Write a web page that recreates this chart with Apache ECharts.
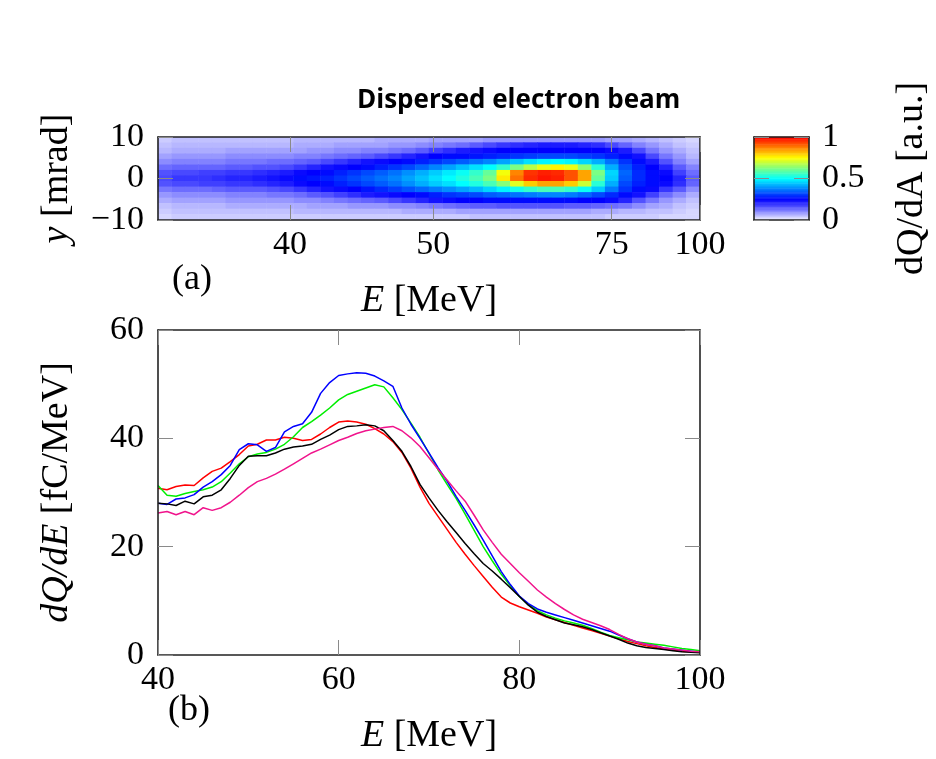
<!DOCTYPE html>
<html><head><meta charset="utf-8">
<script src="https://cdn.jsdelivr.net/npm/echarts@6/dist/echarts.min.js"></script>
<style>html,body{margin:0;padding:0;background:#fff}#c{width:936px;height:759px}</style>
</head><body><div id="c"></div>
<script>
// ---------- panel (b): spectra ----------
const energy = [40,41,42,43,44,45,46,47,48,49,50,51,52,53,54,55,56,57,58,59,60,61,62,63,64,65,66,67,68,69,70,71,72,73,74,75,76,77,78,79,80,81,82,83,84,85,86,87,88,89,90,91,92,93,94,95,96,97,98,99,100];
const redQ = [30.8,30.5,31.1,31.4,31.3,32.7,33.9,34.5,35.7,37.0,38.6,38.9,39.7,39.7,40.2,40.0,39.6,39.8,40.8,42.0,43.0,43.2,43.0,42.6,41.8,40.8,39.4,37.4,34.5,31.0,28.0,25.6,23.2,20.8,18.6,16.5,14.5,12.5,10.7,9.6,8.9,8.3,7.7,7.0,6.5,6.0,5.5,5.0,4.5,4.0,3.5,3.0,2.5,2.1,1.7,1.4,1.1,0.9,0.7,0.6,0.5];
const greenQ = [31.3,29.5,29.3,29.8,30.2,30.5,31.0,32.0,33.6,35.3,36.6,37.1,37.4,38.0,38.9,40.3,42.0,43.1,44.3,45.6,47.1,48.1,48.7,49.3,49.9,49.5,47.5,45.3,42.8,40.2,37.2,34.2,31.5,28.9,26.0,23.0,20.0,17.4,14.9,12.8,10.8,9.3,8.2,7.4,6.8,6.3,5.9,5.5,4.9,4.2,3.6,3.2,2.8,2.4,2.2,2.0,1.8,1.5,1.2,1.0,0.8];
const blueQ = [28.0,27.8,28.8,29.0,29.6,31.0,32.0,33.3,35.0,37.9,39.0,38.8,37.6,38.3,41.2,42.2,42.7,44.8,48.3,50.3,51.6,51.9,52.1,52.0,51.5,50.6,49.6,45.6,42.6,40.0,37.3,34.6,32.1,29.3,26.7,24.0,21.2,18.3,15.4,13.0,10.9,9.5,8.5,7.9,7.4,6.9,6.4,5.9,5.4,4.9,4.4,3.7,3.0,2.4,2.0,1.7,1.3,1.1,0.9,0.7,0.5];
const blackQ = [28.0,27.9,27.6,28.4,27.9,29.2,29.5,30.5,32.6,35.0,36.7,36.8,36.8,37.3,38.0,38.4,38.6,38.9,39.8,40.6,41.6,42.2,42.3,42.5,42.3,41.4,39.6,37.6,34.8,31.5,29.0,26.7,24.6,22.6,20.6,18.7,16.9,15.5,14.0,12.4,10.8,9.2,7.9,7.1,6.5,5.9,5.6,5.2,4.7,4.1,3.5,2.9,2.2,1.7,1.4,1.2,1.0,0.8,0.6,0.5,0.4];
const magentaQ = [26.2,26.5,25.9,26.5,25.9,27.2,26.7,27.2,28.2,29.5,30.9,32.0,32.6,33.4,34.3,35.3,36.3,37.3,38.0,38.8,39.6,40.2,40.9,41.4,41.7,42.0,42.2,41.4,40.1,38.5,36.4,34.3,32.3,30.3,28.4,25.8,23.1,20.8,18.6,16.9,15.2,13.6,12.0,10.7,9.5,8.4,7.4,6.6,6.0,5.4,4.7,3.8,3.0,2.4,2.0,1.7,1.3,1.1,0.9,0.7,0.6];
const seriesNames = ['shot 1','shot 2','shot 3','shot 4','shot 5'];
const seriesColors = ['#ff0000','#00ee00','#0000ff','#000000','#f0148c'];
const seriesValues = [redQ, greenQ, blueQ, blackQ, magentaQ];

// ---------- panel (a): dispersed beam image (dQ/dA in %), rows top (+10 mrad) -> bottom (-10 mrad) ----------
const beamRows = [
 [4,5,5,5,5,5,5,5,5,5,6,6,6,6,6,6,7,7,7,7,8,8,8,8,9,9,9,9,9,9,9,9,9,8,8,7,6,5,4,3],
 [5,6,6,6,6,6,6,6,6,6,7,7,7,8,8,8,8,9,9,10,11,12,13,15,17,19,20,21,22,22,22,21,20,17,14,11,9,7,5,4],
 [6,7,7,7,7,8,8,8,8,8,8,9,9,10,10,11,11,12,13,15,18,20,22,23,24,25,25,25,25,25,25,25,25,24,22,17,12,9,7,5],
 [8,9,9,9,9,10,10,10,10,10,11,11,12,13,14,15,17,19,21,23,25,26,26,27,28,29,30,31,32,32,32,31,30,28,26,23,17,12,9,6],
 [10,11,11,11,11,12,12,12,13,13,14,15,17,19,21,23,24,25,26,28,30,32,34,36,38,41,44,47,49,50,49,46,42,36,30,26,22,16,11,8],
 [13,14,14,14,14,15,15,16,16,17,19,21,23,24,25,26,28,30,32,35,38,41,44,47,50,55,62,68,73,76,73,64,54,42,33,28,25,21,15,11],
 [16,17,17,18,18,19,19,20,21,22,24,25,26,28,30,32,34,36,39,42,45,48,51,55,60,74,87,95,97,96,92,84,62,46,35,29,26,24,18,13],
 [17,19,19,19,20,21,21,22,23,24,26,27,28,30,32,34,36,38,41,44,47,50,53,57,62,77,89,96,98,97,92,84,60,45,34,29,26,25,21,15],
 [16,17,17,18,18,19,19,20,21,22,24,25,26,28,30,32,34,36,39,42,45,47,50,53,57,63,72,80,84,84,80,70,54,42,32,28,26,24,20,14],
 [12,13,13,13,14,15,15,15,16,17,19,21,23,24,25,27,29,31,33,35,37,39,41,43,46,49,52,55,57,57,55,51,45,37,30,26,24,19,15,10],
 [9,10,10,10,10,11,11,11,12,12,13,15,16,18,20,22,23,24,25,26,28,30,31,32,34,35,36,37,38,38,37,35,32,29,26,23,18,13,10,7],
 [7,8,8,8,8,9,9,9,9,9,10,10,11,12,13,14,15,17,19,21,23,24,25,25,26,26,26,26,26,26,26,25,25,24,21,16,12,9,7,5],
 [5,6,6,6,6,7,7,7,7,7,7,8,8,8,9,9,9,10,10,11,12,13,14,15,15,16,16,16,16,16,15,15,14,13,12,10,8,7,5,4],
 [4,5,5,5,5,5,5,5,5,5,6,6,6,6,6,6,6,6,7,7,7,7,8,8,8,8,8,8,8,8,8,8,7,7,6,6,5,5,4,3],
 [3,4,4,4,4,4,4,4,4,4,4,4,4,4,4,4,4,4,4,4,4,4,4,5,5,5,5,5,5,5,5,5,5,4,4,4,4,3,3,3]
];
// spectrometer calibration: energy tick labels and their fractional screen position
const calE = [40, 50, 75, 100];
const calPos = [0.2435, 0.508, 0.837, 1.0];
const yTicksA = [-10, 0, 10];
const cbTicks = [0, 0.5, 1];
const jetWhite = ['#f6f6ff','#7272ff','#0000ff','#0080ff','#00ffff','#80ff80','#ffff00','#ff8000','#ff0000'];

// ---------- build ----------
const heatData = [];
beamRows.forEach((row, r) => row.forEach((v, c) => heatData.push([c, beamRows.length - 1 - r, v / 100])));
const colIdx = beamRows[0].map((_, i) => i);
const rowIdx = beamRows.map((_, i) => i);
const cbN = 100;
const cbIdx = [], cbData = [];
for (let i = 0; i < cbN; i++) { cbIdx.push(i); cbData.push([0, i, (i + 0.5) / cbN]); }

const serif = 'Liberation Serif';
const tickLbl = {fontFamily: serif, fontSize: 34, color: '#000'};
const nameStyle = {fontFamily: serif, fontSize: 38, color: '#000',
  rich: {i: {fontFamily: serif, fontSize: 38, fontStyle: 'italic', color: '#000'}, r: {fontFamily: serif, fontSize: 38, color: '#000'}}};
const frame = {show: true, onZero: false, lineStyle: {color: '#222', width: 1.6}};
const gtick = (extra) => Object.assign({show: true, inside: true, length: 15, lineStyle: {color: '#8a8a8a', width: 1}}, extra || {});
const noSplit = {show: false};
const minus = v => v < 0 ? '\u2212' + (-v) : String(v);

const chart = echarts.init(document.getElementById('c'));
chart.setOption({
  animation: false,
  backgroundColor: '#fff',
  title: {text: 'Dispersed electron beam', left: 352, top: 83,
    textStyle: {fontFamily: 'Open Sans', fontWeight: 'bold', fontSize: 26, color: '#000'}},
  grid: [
    {left: 158, top: 137, width: 542, height: 83},
    {left: 754, top: 137, width: 55, height: 83},
    {left: 158, top: 330, width: 542, height: 325}
  ],
  visualMap: {show: false, type: 'continuous', min: 0, max: 1, seriesIndex: [0, 1], inRange: {color: jetWhite}},
  xAxis: [
    {gridIndex: 0, type: 'category', data: colIdx, show: false},
    {gridIndex: 0, type: 'value', min: 0, max: 1, position: 'bottom', z: 5, axisLine: frame,
     axisTick: gtick({customValues: calPos}),
     axisLabel: Object.assign({}, tickLbl, {customValues: calPos, margin: 8, formatter: v => String(calE[calPos.indexOf(v)])}),
     splitLine: noSplit,
     name: '{i|E} {r|[MeV]}', nameLocation: 'middle', nameGap: 62, nameTextStyle: nameStyle},
    {gridIndex: 0, type: 'value', min: 0, max: 1, position: 'top', z: 5, axisLine: frame,
     axisTick: gtick({customValues: calPos}), axisLabel: {show: false}, splitLine: noSplit},
    {gridIndex: 1, type: 'category', data: ['cb'], show: false},
    {gridIndex: 1, type: 'value', min: 0, max: 1, position: 'bottom', z: 5, axisLine: frame, axisTick: {show: false}, axisLabel: {show: false}, splitLine: noSplit},
    {gridIndex: 1, type: 'value', min: 0, max: 1, position: 'top', z: 5, axisLine: frame, axisTick: {show: false}, axisLabel: {show: false}, splitLine: noSplit},
    {gridIndex: 2, type: 'value', min: 40, max: 100, interval: 20, position: 'bottom', z: 5, axisLine: frame,
     axisTick: gtick(), axisLabel: Object.assign({}, tickLbl, {margin: 8}), splitLine: noSplit,
     name: '{i|E} {r|[MeV]}', nameLocation: 'middle', nameGap: 62, nameTextStyle: nameStyle},
    {gridIndex: 2, type: 'value', min: 40, max: 100, interval: 20, position: 'top', z: 5, axisLine: frame,
     axisTick: gtick(), axisLabel: {show: false}, splitLine: noSplit}
  ],
  yAxis: [
    {gridIndex: 0, type: 'category', data: rowIdx, show: false},
    {gridIndex: 0, type: 'value', min: -10, max: 10, interval: 10, position: 'left', z: 5, axisLine: frame,
     axisTick: gtick(), axisLabel: Object.assign({}, tickLbl, {margin: 14, formatter: minus}), splitLine: noSplit,
     name: '{i|y} {r|[mrad]}', nameLocation: 'middle', nameGap: 82, nameRotate: 90, nameTextStyle: nameStyle},
    {gridIndex: 0, type: 'value', min: -10, max: 10, interval: 10, position: 'right', z: 5, axisLine: frame,
     axisTick: gtick(), axisLabel: {show: false}, splitLine: noSplit},
    {gridIndex: 1, type: 'category', data: cbIdx, show: false},
    {gridIndex: 1, type: 'value', min: 0, max: 1, interval: 0.5, position: 'left', z: 5, axisLine: frame,
     axisTick: gtick(), axisLabel: {show: false}, splitLine: noSplit},
    {gridIndex: 1, type: 'value', min: 0, max: 1, interval: 0.5, position: 'right', z: 5, axisLine: frame,
     axisTick: gtick(), axisLabel: Object.assign({}, tickLbl, {margin: 13}), splitLine: noSplit,
     name: 'dQ/dA [a.u.]', nameLocation: 'middle', nameGap: 84, nameRotate: 90, nameTextStyle: nameStyle},
    {gridIndex: 2, type: 'value', min: 0, max: 60, interval: 20, position: 'left', z: 5, axisLine: frame,
     axisTick: gtick(), axisLabel: Object.assign({}, tickLbl, {margin: 14}), splitLine: noSplit,
     name: '{i|dQ/dE} {r|[fC/MeV]}', nameLocation: 'middle', nameGap: 82, nameRotate: 90, nameTextStyle: nameStyle},
    {gridIndex: 2, type: 'value', min: 0, max: 60, interval: 20, position: 'right', z: 5, axisLine: frame,
     axisTick: gtick(), axisLabel: {show: false}, splitLine: noSplit}
  ],
  graphic: [
    {type: 'text', left: 172, top: 262, style: {text: '(a)', fontFamily: serif, fontSize: 36, fill: '#000'}},
    {type: 'text', left: 168, top: 693, style: {text: '(b)', fontFamily: serif, fontSize: 36, fill: '#000'}}
  ],
  series: [
    {type: 'heatmap', name: 'beam', xAxisIndex: 0, yAxisIndex: 0, data: heatData, progressive: 0, itemStyle: {borderWidth: 0}},
    {type: 'heatmap', name: 'colorbar', xAxisIndex: 3, yAxisIndex: 3, data: cbData, progressive: 0, itemStyle: {borderWidth: 0}}
  ].concat(seriesValues.map((vals, k) => ({
    type: 'line', name: seriesNames[k], xAxisIndex: 6, yAxisIndex: 6,
    data: energy.map((e, i) => [e, vals[i]]),
    showSymbol: false, symbol: 'none', clip: true,
    lineStyle: {color: seriesColors[k], width: 1.5}, itemStyle: {color: seriesColors[k]}
  })))
});
</script></body></html>
